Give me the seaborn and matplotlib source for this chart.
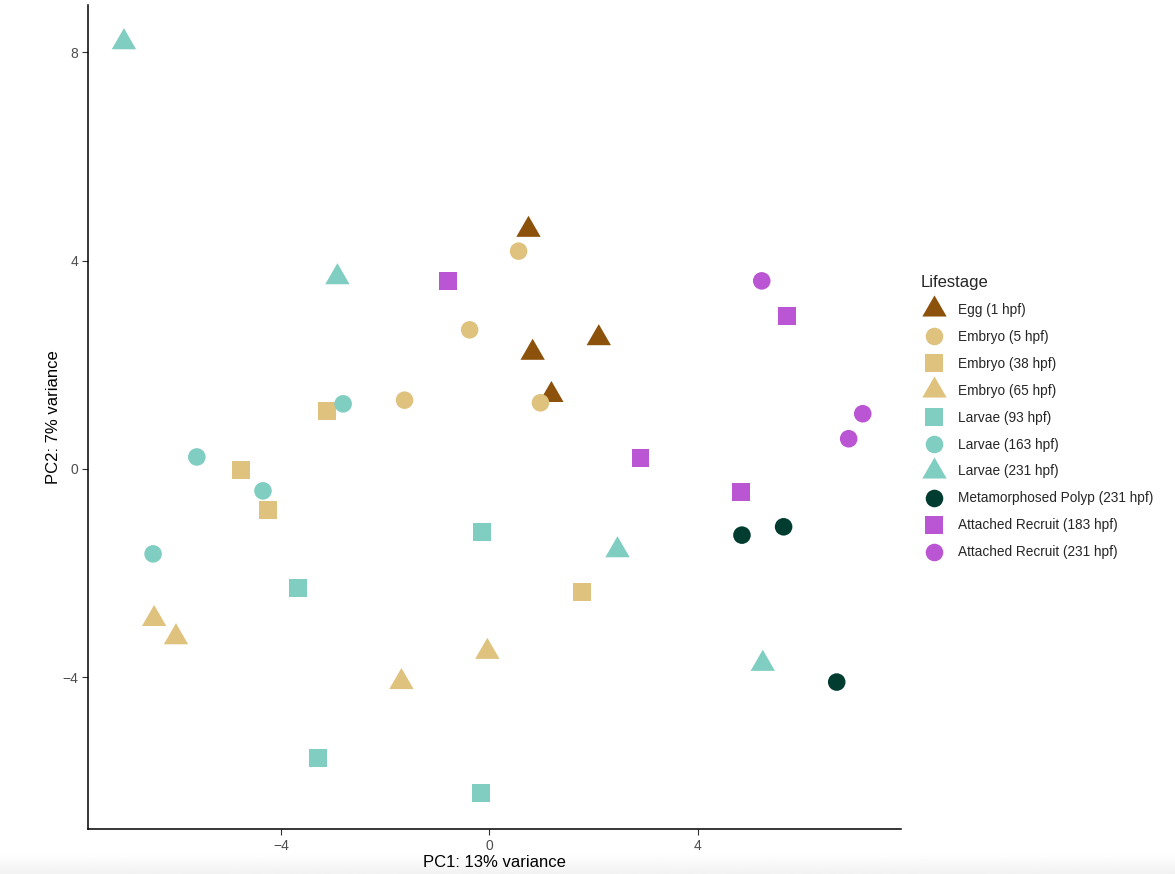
import numpy as np
import pandas as pd
import matplotlib
matplotlib.use("Agg")
import matplotlib.pyplot as plt
from matplotlib.path import Path
import seaborn as sns

# PCA coordinates, one group per life stage
stages = ["Egg (1 hpf)", "Embryo (5 hpf)", "Embryo (38 hpf)", "Embryo (65 hpf)",
          "Larvae (93 hpf)", "Larvae (163 hpf)", "Larvae (231 hpf)",
          "Metamorphosed Polyp (231 hpf)", "Attached Recruit (183 hpf)",
          "Attached Recruit (231 hpf)"]

egg_1_pc1 = [0.75, 0.83, 2.10, 1.19]
egg_1_pc2 = [4.59, 2.23, 2.51, 1.42]
emb_5_pc1 = [0.56, -0.38, -1.63, 0.98]
emb_5_pc2 = [4.18, 2.67, 1.32, 1.27]
emb_38_pc1 = [-3.12, -4.77, -4.25, 1.77]
emb_38_pc2 = [1.11, -0.02, -0.79, -2.36]
emb_65_pc1 = [-6.44, -6.02, -1.69, -0.04]
emb_65_pc2 = [-2.88, -3.23, -4.09, -3.51]
lar_93_pc1 = [-0.15, -3.67, -3.29, -0.17]
lar_93_pc2 = [-1.21, -2.28, -5.55, -6.22]
lar_163_pc1 = [-2.81, -5.62, -4.35, -6.46]
lar_163_pc2 = [1.25, 0.23, -0.42, -1.63]
lar_231_pc1 = [-7.02, -2.92, 2.46, 5.25]
lar_231_pc2 = [8.19, 3.68, -1.56, -3.74]
polyp_pc1 = [4.85, 5.65, 6.67]
polyp_pc2 = [-1.27, -1.11, -4.09]
rec_183_pc1 = [-0.79, 5.71, 2.90, 4.83]
rec_183_pc2 = [3.61, 2.94, 0.21, -0.44]
rec_231_pc1 = [5.23, 7.17, 6.90]
rec_231_pc2 = [3.61, 1.06, 0.58]

pc1_groups = [egg_1_pc1, emb_5_pc1, emb_38_pc1, emb_65_pc1, lar_93_pc1,
              lar_163_pc1, lar_231_pc1, polyp_pc1, rec_183_pc1, rec_231_pc1]
pc2_groups = [egg_1_pc2, emb_5_pc2, emb_38_pc2, emb_65_pc2, lar_93_pc2,
              lar_163_pc2, lar_231_pc2, polyp_pc2, rec_183_pc2, rec_231_pc2]

rows = []
for stage, xs, ys in zip(stages, pc1_groups, pc2_groups):
    for x, y in zip(xs, ys):
        rows.append({"PC1": x, "PC2": y, "Lifestage": stage})
df = pd.DataFrame(rows)

brown = "#8C510A"
tan = "#DFC27D"
teal = "#80CDC1"
dark = "#003C30"
orchid = "#BA55D3"
colors = [brown, tan, tan, tan, teal, teal, teal, dark, orchid, orchid]

# equilateral triangle, like ggplot shape 17
tri = Path([(0, 1), (-0.866, -0.5), (0.866, -0.5), (0, 1)],
           [Path.MOVETO, Path.LINETO, Path.LINETO, Path.CLOSEPOLY])
shape_of = {"tri": tri, "circ": "o", "sq": "s"}
size_of = {"tri": 410, "circ": 160, "sq": 165}
shapes = ["tri", "circ", "sq", "tri", "sq", "circ", "tri", "circ", "sq", "circ"]

palette = dict(zip(stages, colors))
markers = {s: shape_of[k] for s, k in zip(stages, shapes)}
sizes = {s: size_of[k] for s, k in zip(stages, shapes)}

sns.set_theme(style="white")
plt.rcParams["font.family"] = ["Liberation Sans", "DejaVu Sans"]

fig = plt.figure(figsize=(11.75, 8.74), dpi=100)

# faint grey fade along the bottom edge of the screenshot
band = fig.add_axes([0, 0, 1, 0.024], zorder=-1)
band.imshow(np.linspace(1.0, 0.95, 20).reshape(-1, 1), cmap="gray",
            vmin=0, vmax=1, aspect="auto", extent=[0, 1, 0, 1])
band.set_axis_off()

ax = fig.add_axes([0.0749, 0.0515, 0.6917, 0.9425])

sns.scatterplot(data=df, x="PC1", y="PC2", hue="Lifestage", style="Lifestage",
                size="Lifestage", hue_order=stages, style_order=stages,
                size_order=stages, palette=palette, markers=markers,
                sizes=sizes, linewidth=0, alpha=1, ax=ax)
ax.patch.set_alpha(0)

ax.set_xlim(-7.71, 7.9)
ax.set_ylim(-6.91, 8.9)
ax.set_xticks([-4, 0, 4])
ax.set_yticks([-4, 0, 4, 8])
ax.set_xticklabels(["\u22124", "0", "4"])
ax.set_yticklabels(["\u22124", "0", "4", "8"])
ax.tick_params(axis="both", length=4, width=0.8, color="#333333",
               labelcolor="#4D4D4D", labelsize=10, direction="out",
               bottom=True, left=True, pad=3)
for side in ["top", "right"]:
    ax.spines[side].set_visible(False)
for side in ["left", "bottom"]:
    ax.spines[side].set_color("black")
    ax.spines[side].set_linewidth(1.1)
ax.set_xlabel("PC1: 13% variance", fontsize=12, color="black", labelpad=2)
ax.set_ylabel("PC2: 7% variance", fontsize=12, color="black", labelpad=1)
ax.grid(False)

leg = ax.legend(title="Lifestage", loc="center left",
                bbox_to_anchor=(1.018, 0.5), frameon=False, fontsize=9.8,
                title_fontsize=12, labelspacing=0.95, handletextpad=0.7,
                borderaxespad=0)
leg._legend_box.align = "left"

fig.savefig("out.png", dpi=100)
